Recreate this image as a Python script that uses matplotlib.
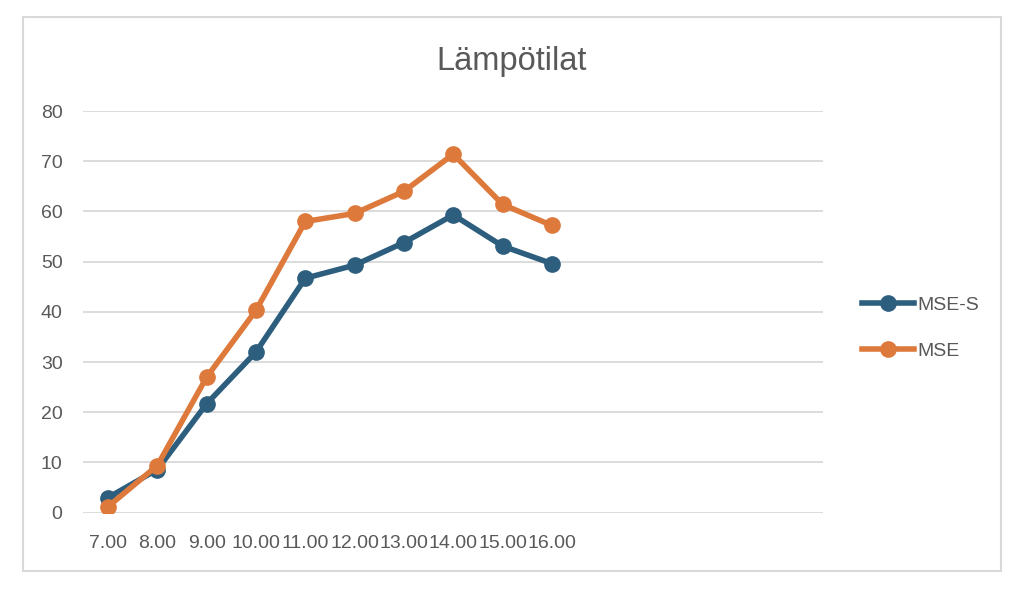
import matplotlib.pyplot as plt
from matplotlib.patches import Rectangle

plt.rcParams['font.family'] = ['Liberation Sans', 'DejaVu Sans']

# data
hours = ['7.00', '8.00', '9.00', '10.00', '11.00', '12.00', '13.00', '14.00', '15.00', '16.00']
# the category axis has 5 empty slots after the last label
empty_slots = 5
mse_s = [3.0, 8.6, 21.7, 32.0, 46.7, 49.3, 53.8, 59.3, 53.1, 49.6]
mse = [1.2, 9.4, 27.0, 40.3, 58.0, 59.6, 64.0, 71.4, 61.4, 57.2]
y_ticks = [0, 10, 20, 30, 40, 50, 60, 70, 80]

labels = hours + [''] * empty_slots
x = range(len(hours))

fig = plt.figure(figsize=(10.24, 5.93), dpi=100)
ax = fig.add_axes([0.0814, 0.1354, 0.7225, 0.6774])

ax.plot(x, mse_s, color='#2D5E7E', linewidth=4, marker='o', markersize=11, label='MSE-S', zorder=3)
ax.plot(x, mse, color='#DE793C', linewidth=4, marker='o', markersize=11, label='MSE', zorder=3)

ax.set_xlim(-0.5, len(labels) - 0.5)
ax.set_ylim(0, 80)
ax.set_xticks(range(len(labels)))
ax.set_xticklabels(labels)
ax.set_yticks(y_ticks)
ax.grid(axis='y', color='#D9D9D9', linewidth=1.3)
ax.set_axisbelow(True)
for s in ax.spines.values():
    s.set_visible(False)
ax.tick_params(length=0, labelsize=14, colors='#595959')
ax.tick_params(axis='x', pad=16)
ax.tick_params(axis='y', pad=15)

fig.text(0.5, 1 - 70 / 593, 'Lämpötilat', ha='center', va='baseline', fontsize=23.5, color='#595959')

ax.legend(loc='center left', bbox_to_anchor=(844 / 1024, 1 - 328 / 593), bbox_transform=fig.transFigure,
          frameon=False, fontsize=14, labelcolor='#595959', handlelength=2.7, handletextpad=0.15,
          labelspacing=1.45)

# light outer border like the chart area
fig.patches.append(Rectangle((23 / 1024, 1 - 571 / 593), (1001 - 23) / 1024, (571 - 17) / 593,
                             transform=fig.transFigure, fill=False, edgecolor='#D9D9D9', linewidth=1.5))

plt.savefig('out.png', dpi=100)
